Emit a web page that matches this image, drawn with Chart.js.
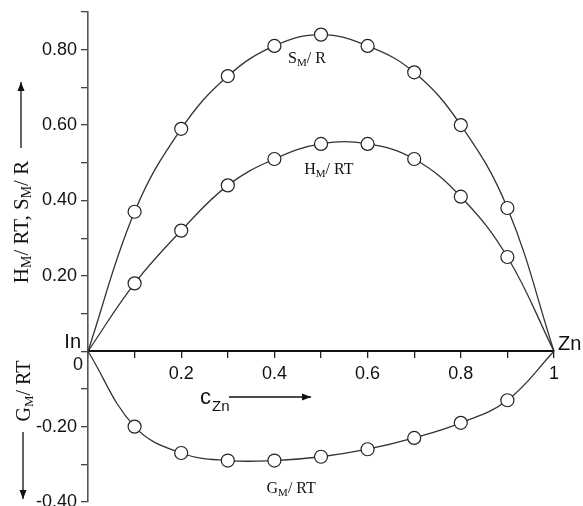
<!DOCTYPE html>
<html>
<head>
<meta charset="utf-8">
<script src="https://cdn.jsdelivr.net/npm/chart.js@4.4.1/dist/chart.umd.min.js"></script>
<style>
  html, body { margin: 0; padding: 0; background: #fff; }
  #wrap { width: 583px; height: 506px; position: relative; }
</style>
</head>
<body>
<div id="wrap"><canvas id="mixChart"></canvas></div>
<script>
// mole fraction of Zn (In-Zn liquid alloy)
const cZn = [0, 0.1, 0.2, 0.3, 0.4, 0.5, 0.6, 0.7, 0.8, 0.9, 1];
const smR = [0, 0.37, 0.59, 0.73, 0.81, 0.84, 0.81, 0.74, 0.60, 0.38, 0];
const hmRT = [0, 0.18, 0.32, 0.44, 0.51, 0.55, 0.55, 0.51, 0.41, 0.25, 0];
const gmRT = [0, -0.20, -0.27, -0.29, -0.29, -0.28, -0.26, -0.23, -0.19, -0.13, 0];

// labelled ticks
const xTickValues = [0.2, 0.4, 0.6, 0.8, 1];
const xTickLabels = ['0.2', '0.4', '0.6', '0.8', '1'];
const yTickValues = [-0.4, -0.2, 0.2, 0.4, 0.6, 0.8];
const yTickLabels = ['-0.40', '-0.20', '0.20', '0.40', '0.60', '0.80'];

function tickLabel(v, values, labels) {
    const i = values.findIndex(t => Math.abs(t - v) < 1e-6);
    return i < 0 ? '' : labels[i];
}

function makeSeries(values) {
    return {
        data: cZn.map((x, i) => ({ x: x, y: values[i] })),
        borderColor: '#333',
        borderWidth: 1.3,
        tension: 0.4,
        pointRadius: cZn.map(x => (x === 0 || x === 1) ? 0 : 6.5),
        pointBackgroundColor: '#fff',
        pointBorderColor: '#222',
        pointBorderWidth: 1.2,
        clip: false
    };
}

// draw text with a subscript, centred on x
function subText(ctx, parts, x, y, family) {
    let w = 0;
    parts.forEach(p => {
        ctx.font = p[1] + 'px ' + family;
        w += ctx.measureText(p[0]).width;
    });
    let cx = x - w / 2;
    ctx.textAlign = 'left';
    ctx.textBaseline = 'alphabetic';
    parts.forEach(p => {
        ctx.font = p[1] + 'px ' + family;
        ctx.fillText(p[0], cx, y + p[2]);
        cx += ctx.measureText(p[0]).width;
    });
    return w;
}

function arrow(ctx, x1, y1, x2, y2) {
    const a = Math.atan2(y2 - y1, x2 - x1);
    ctx.beginPath();
    ctx.moveTo(x1, y1);
    ctx.lineTo(x2, y2);
    ctx.stroke();
    ctx.beginPath();
    ctx.moveTo(x2, y2);
    ctx.lineTo(x2 - 9 * Math.cos(a) + 3.5 * Math.sin(a), y2 - 9 * Math.sin(a) - 3.5 * Math.cos(a));
    ctx.lineTo(x2 - 9 * Math.cos(a) - 3.5 * Math.sin(a), y2 - 9 * Math.sin(a) + 3.5 * Math.cos(a));
    ctx.closePath();
    ctx.fill();
}

const textPlugin = {
    id: 'textPlugin',
    afterDraw(chart) {
        const ctx = chart.ctx;
        const xs = chart.scales.x;
        const ys = chart.scales.y;
        const serif = '"Liberation Serif", serif';
        const sans = '"Liberation Sans", Arial, sans-serif';
        ctx.save();
        ctx.fillStyle = '#111';
        ctx.strokeStyle = '#111';
        ctx.lineWidth = 1.3;

        // curve names
        subText(ctx, [['S', 16, 0], ['M', 11, 3], ['/ R', 16, 0]], xs.getPixelForValue(0.47), ys.getPixelForValue(0.765), serif);
        subText(ctx, [['H', 16, 0], ['M', 11, 3], ['/ RT', 16, 0]], xs.getPixelForValue(0.517), ys.getPixelForValue(0.47), serif);
        subText(ctx, [['G', 16, 0], ['M', 11, 3], ['/ RT', 16, 0]], xs.getPixelForValue(0.436), ys.getPixelForValue(-0.376), serif);

        // element names at the ends of the axis
        const y0 = ys.getPixelForValue(0);
        ctx.font = '20px ' + sans;
        ctx.textBaseline = 'alphabetic';
        ctx.textAlign = 'right';
        ctx.fillText('In', xs.getPixelForValue(0) - 7, y0 - 3);
        ctx.textAlign = 'left';
        ctx.fillText('Zn', xs.getPixelForValue(1) + 4, y0 - 1);
        ctx.font = '18px ' + sans;
        ctx.textAlign = 'center';
        ctx.fillText('0', xs.getPixelForValue(0) - 10, y0 + 19);

        // composition label with arrow
        ctx.font = '22px ' + sans;
        ctx.textAlign = 'left';
        ctx.fillText('c', 200, 404);
        ctx.font = '15px ' + sans;
        ctx.fillText('Zn', 212, 411);
        arrow(ctx, 229, 397, 311, 397);

        // rotated y labels
        ctx.save();
        ctx.translate(28, 222);
        ctx.rotate(-Math.PI / 2);
        subText(ctx, [['H', 21, 0], ['M', 14, 3], ['/ RT, S', 21, 0], ['M', 14, 3], ['/ R', 21, 0]], 0, 0, serif);
        ctx.restore();
        arrow(ctx, 21, 148, 21, 82);

        ctx.save();
        ctx.translate(30, 391);
        ctx.rotate(-Math.PI / 2);
        subText(ctx, [['G', 20, 0], ['M', 13, 3], ['/ RT', 20, 0]], 0, 0, serif);
        ctx.restore();
        arrow(ctx, 23, 432, 23, 499);

        ctx.restore();
    }
};

new Chart(document.getElementById('mixChart'), {
    type: 'line',
    data: {
        datasets: [makeSeries(smR), makeSeries(hmRT), makeSeries(gmRT)]
    },
    options: {
        responsive: true,
        maintainAspectRatio: false,
        animation: false,
        layout: { padding: { top: 12, right: 29, bottom: 4, left: 0 } },
        plugins: {
            legend: { display: false },
            tooltip: { enabled: false }
        },
        scales: {
            x: {
                type: 'linear',
                position: { y: 0 },
                min: 0,
                max: 1,
                grid: { drawOnChartArea: false, tickLength: 6, color: '#222', lineWidth: 1.3 },
                border: { color: '#111', width: 2 },
                ticks: {
                    stepSize: 0.1,
                    autoSkip: false,
                    maxRotation: 0,
                    padding: 6,
                    color: '#111',
                    font: { family: '"Liberation Sans", Arial, sans-serif', size: 18 },
                    callback: v => tickLabel(v, xTickValues, xTickLabels)
                }
            },
            y: {
                min: -0.4,
                max: 0.9,
                grid: { drawOnChartArea: false, tickLength: 7, color: '#444', lineWidth: 1.3 },
                border: { color: '#555', width: 1.6 },
                ticks: {
                    stepSize: 0.1,
                    autoSkip: false,
                    padding: 4,
                    color: '#111',
                    font: { family: '"Liberation Sans", Arial, sans-serif', size: 18 },
                    callback: v => tickLabel(v, yTickValues, yTickLabels)
                },
                afterFit: scale => {
                    scale.width = 88;
                    scale.paddingTop = 0;
                    scale.paddingBottom = 0;
                }
            }
        }
    },
    plugins: [textPlugin]
});
</script>
</body>
</html>
